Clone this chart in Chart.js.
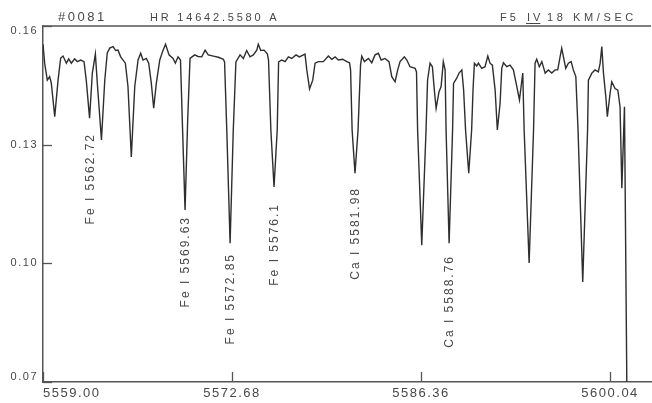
<!DOCTYPE html>
<html><head><meta charset="utf-8">
<script src="https://cdn.jsdelivr.net/npm/chart.js@4.4.1/dist/chart.umd.min.js"></script>
<style>html,body{margin:0;padding:0;background:#fff}canvas{display:block}</style>
</head><body>
<canvas id="c" width="652" height="403"></canvas>
<script>
// ---- data ----
const wavelength = [
5559.00,5559.12,5559.31,5559.48,5559.60,5559.85,5560.09,5560.28,5560.45,5560.69,
5560.86,5561.05,5561.29,5561.48,5561.73,5561.97,5562.13,5562.37,5562.57,5562.79,
5562.93,5563.23,5563.47,5563.65,5563.83,5564.07,5564.26,5564.43,5564.62,5564.96,
5565.15,5565.39,5565.64,5565.88,5566.07,5566.24,5566.48,5566.65,5566.84,5567.01,
5567.20,5567.45,5567.69,5567.87,5568.12,5568.41,5568.58,5568.77,5568.95,5569.08,
5569.28,5569.47,5569.64,5569.98,5570.22,5570.49,5570.73,5570.96,5571.33,5571.69,
5572.05,5572.14,5572.30,5572.54,5572.77,5572.96,5573.26,5573.50,5573.74,5573.98,
5574.22,5574.47,5574.58,5574.76,5575.00,5575.24,5575.32,5575.49,5575.72,5575.95,
5576.05,5576.28,5576.52,5576.76,5577.00,5577.31,5577.55,5577.96,5578.09,5578.29,
5578.52,5578.69,5578.93,5579.29,5579.65,5579.90,5580.14,5580.37,5580.69,5580.98,
5581.18,5581.26,5581.37,5581.58,5581.80,5581.98,5582.07,5582.26,5582.55,5582.79,
5583.03,5583.27,5583.47,5583.75,5584.04,5584.24,5584.48,5584.67,5584.84,5585.15,
5585.33,5585.56,5585.93,5586.03,5586.11,5586.41,5586.72,5586.83,5587.01,5587.18,
5587.32,5587.45,5587.66,5587.81,5587.97,5588.10,5588.17,5588.39,5588.64,5588.71,
5588.94,5589.11,5589.31,5589.44,5589.58,5589.81,5590.02,5590.12,5590.22,5590.39,
5590.51,5590.75,5590.99,5591.19,5591.35,5591.52,5591.72,5591.88,5592.08,5592.20,
5592.32,5592.56,5592.80,5593.04,5593.29,5593.48,5593.60,5593.72,5593.82,5594.18,
5594.50,5594.61,5594.73,5594.92,5595.10,5595.34,5595.57,5595.82,5596.06,5596.25,
5596.42,5596.54,5596.71,5596.83,5597.02,5597.22,5597.38,5597.56,5597.72,5598.06,
5598.41,5598.47,5598.72,5598.95,5599.19,5599.32,5599.44,5599.56,5599.73,5599.84,
5600.04,5600.16,5600.40,5600.60,5600.76,5600.89,5601.08,5601.25
];
const flux = [
0.1554,0.1506,0.1463,0.1472,0.1456,0.1371,0.1463,0.1519,0.1524,0.1506,
0.1517,0.1506,0.1517,0.1510,0.1514,0.1510,0.1463,0.1367,0.1481,0.1529,
0.1456,0.1312,0.1463,0.1532,0.1544,0.1548,0.1538,0.1539,0.1522,0.1506,
0.1447,0.1269,0.1447,0.1514,0.1531,0.1514,0.1518,0.1506,0.1455,0.1392,
0.1455,0.1514,0.1539,0.1554,0.1527,0.1518,0.1506,0.1522,0.1514,0.1362,
0.1135,0.1362,0.1518,0.1527,0.1523,0.1522,0.1539,0.1527,0.1524,0.1521,
0.1516,0.1509,0.1337,0.1051,0.1337,0.1509,0.1527,0.1518,0.1538,0.1522,
0.1527,0.1539,0.1554,0.1538,0.1539,0.1529,0.1514,0.1337,0.1193,0.1337,
0.1509,0.1514,0.1510,0.1522,0.1518,0.1527,0.1522,0.1529,0.1489,0.1441,
0.1463,0.1506,0.1510,0.1510,0.1524,0.1516,0.1522,0.1514,0.1516,0.1510,
0.1507,0.1489,0.1337,0.1228,0.1337,0.1501,0.1524,0.1510,0.1518,0.1507,
0.1527,0.1531,0.1514,0.1518,0.1510,0.1472,0.1459,0.1489,0.1510,0.1522,
0.1514,0.1497,0.1493,0.1484,0.1337,0.1046,0.1337,0.1463,0.1506,0.1497,
0.1438,0.1392,0.1434,0.1447,0.1510,0.1489,0.1337,0.1051,0.1337,0.1455,
0.1468,0.1481,0.1489,0.1438,0.1337,0.1228,0.1337,0.1438,0.1506,0.1499,
0.1506,0.1493,0.1497,0.1524,0.1506,0.1501,0.1438,0.1337,0.1405,0.1493,
0.1507,0.1497,0.1501,0.1489,0.1447,0.1413,0.1447,0.1481,0.1337,0.1001,
0.1337,0.1506,0.1516,0.1497,0.1510,0.1481,0.1489,0.1481,0.1489,0.1489,
0.1522,0.1544,0.1514,0.1493,0.1506,0.1510,0.1489,0.1472,0.1337,0.0953,
0.1337,0.1463,0.1481,0.1489,0.1484,0.1506,0.1548,0.1481,0.1421,0.1371,
0.1430,0.1459,0.1442,0.1438,0.1396,0.1190,0.1396,0.0700
];
const xTickValues = [5559.00, 5572.68, 5586.36, 5600.04];
const xTickLabels = ['5559.00', '5572.68', '5586.36', '5600.04'];
const yTickValues = [0.07, 0.10, 0.13, 0.16];
const yTickLabels = ['0.07', '0.10', '0.13', '0.16'];
const xRange = [5559.00, 5603.00];
const lineNames = ['Fe I 5562.72', 'Fe I 5569.63', 'Fe I 5572.85', 'Fe I 5576.1', 'Ca I 5581.98', 'Ca I 5588.76'];
const lineCenters = [5562.37, 5569.28, 5572.54, 5575.72, 5581.58, 5588.39];
const headerId = '#0081';
const headerStar = 'HR 14642.5580 A';
const headerType = 'F5';
const headerClass = 'IV';
const headerVsini = '18 KM/SEC';

// ---- layout (pixels) ----
const labelTopPx = [133, 216, 253, 203, 187, 255];
const labelDx = [1.5, 0.5, 1, 0.5, 0.5, 0.5];
const INK = '#2e2e2e';
const TXT = '#484848';
const FONT = '"Liberation Sans", Arial, sans-serif';

const points = wavelength.map((w, i) => ({x: w, y: flux[i]}));

const decor = {
  id: 'decor',
  beforeDraw(chart) {
    chart.ctx.letterSpacing = '1.5px';
  },
  afterDraw(chart) {
    const ctx = chart.ctx, a = chart.chartArea;
    const xs = chart.scales.x, ys = chart.scales.y;
    ctx.save();
    ctx.strokeStyle = '#555';
    ctx.lineWidth = 1.5;
    // top frame line
    ctx.beginPath(); ctx.moveTo(a.left, a.top); ctx.lineTo(a.right, a.top); ctx.stroke();
    // inward tick marks
    ctx.lineWidth = 1.3;
    yTickValues.forEach(v => {
      const y = Math.round(ys.getPixelForValue(v)) + 0.5;
      ctx.beginPath(); ctx.moveTo(a.left, y); ctx.lineTo(a.left + 9, y); ctx.stroke();
    });
    xTickValues.forEach(v => {
      const x = Math.round(xs.getPixelForValue(v)) + 0.5;
      ctx.beginPath(); ctx.moveTo(x, a.bottom); ctx.lineTo(x, a.bottom - 10); ctx.stroke();
    });
    // line identifications (vertical text)
    ctx.fillStyle = TXT;
    ctx.font = '12px ' + FONT;
    ctx.letterSpacing = '2px';
    lineNames.forEach((name, i) => {
      const x = xs.getPixelForValue(lineCenters[i]) + labelDx[i];
      ctx.save();
      ctx.translate(x, labelTopPx[i]);
      ctx.rotate(-Math.PI / 2);
      ctx.textAlign = 'right';
      ctx.textBaseline = 'middle';
      ctx.fillText(name, 0, 0);
      ctx.restore();
    });
    // header
    ctx.textAlign = 'left';
    ctx.textBaseline = 'alphabetic';
    ctx.font = '13px ' + FONT;
    ctx.letterSpacing = '2.5px';
    ctx.fillText(headerId, 58, 21);
    ctx.font = '11px ' + FONT;
    ctx.letterSpacing = '2.8px';
    ctx.fillText(headerStar, 150, 21);
    ctx.letterSpacing = '3px';
    ctx.fillText(headerType, 500, 21);
    ctx.fillText(headerClass, 527, 21);
    const w = ctx.measureText(headerClass).width;
    ctx.strokeStyle = TXT; ctx.lineWidth = 1;
    ctx.beginPath(); ctx.moveTo(526, 23.5); ctx.lineTo(526 + w - 2, 23.5); ctx.stroke();
    ctx.letterSpacing = '3.6px';
    ctx.fillText(headerVsini, 547, 21);
    ctx.restore();
  }
};

new Chart(document.getElementById('c'), {
  type: 'scatter',
  data: {
    datasets: [{
      data: points,
      showLine: true,
      pointRadius: 0,
      borderColor: INK,
      borderWidth: 1.4,
      tension: 0
    }]
  },
  options: {
    responsive: false,
    animation: false,
    events: [],
    layout: {padding: {top: 26, right: 1, left: 0, bottom: 0}},
    plugins: {legend: {display: false}, tooltip: {enabled: false}},
    scales: {
      x: {
        type: 'linear',
        min: xRange[0], max: xRange[1],
        afterBuildTicks: s => { s.ticks = xTickValues.map(v => ({value: v})).concat([{value: xRange[1]}]); },
        afterFit: s => { s.height = 21; s.paddingLeft = 0; s.paddingRight = 0; },
        grid: {display: true, drawOnChartArea: false, drawTicks: false},
        border: {display: true, color: '#555', width: 1.5},
        ticks: {
          autoSkip: false, maxRotation: 0, align: 'inner', padding: 4,
          color: TXT, font: {family: FONT, size: 13},
          callback: (v, i) => (i < xTickLabels.length ? xTickLabels[i] : '')
        }
      },
      y: {
        type: 'linear',
        min: yTickValues[0], max: yTickValues[yTickValues.length - 1],
        afterBuildTicks: s => { s.ticks = yTickValues.map(v => ({value: v})); },
        afterFit: s => { s.width = 43; },
        grid: {display: true, drawOnChartArea: false, drawTicks: false},
        border: {display: true, color: '#555', width: 1.5},
        ticks: {
          padding: 5, color: TXT, font: {family: FONT, size: 11, lineHeight: 0.9},
          callback: (v, i) => {
            const last = yTickValues.length - 1;
            if (i === 0) return [yTickLabels[i], ''];
            if (i === last) return ['', yTickLabels[i]];
            return yTickLabels[i];
          }
        }
      }
    }
  },
  plugins: [decor]
});
</script>
</body></html>
